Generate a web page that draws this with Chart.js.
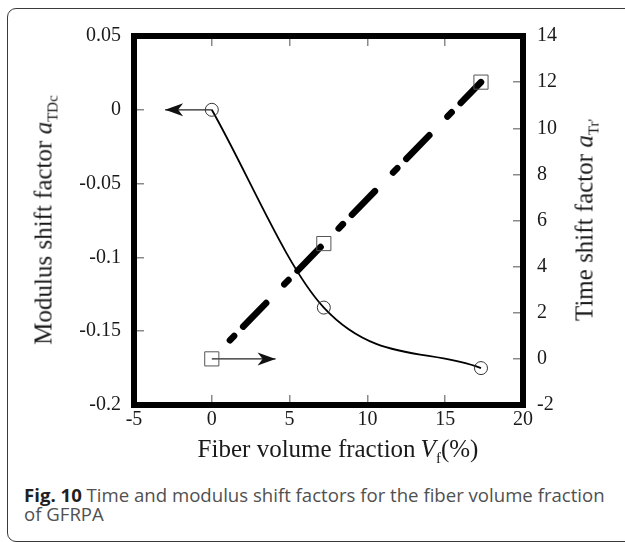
<!DOCTYPE html>
<html lang="en">

<head>
    <meta charset="UTF-8">
    <title>Fig. 10 shift factors</title>
    <script src="https://cdn.jsdelivr.net/npm/chart.js"></script>
    <style>
        body {
            margin: 0;
            width: 625px;
            height: 542px;
            overflow: hidden;
            background: #fff;
            position: relative;
        }

        .frame {
            position: absolute;
            left: 7px;
            top: 8px;
            width: 660px;
            height: 532px;
            border: 1.5px solid #3a3a3a;
            border-radius: 9px;
        }

        #chart {
            position: absolute;
            left: 0;
            top: 0;
        }

        .axis-title {
            position: absolute;
            font-family: 'Liberation Serif', serif;
            font-size: 25px;
            line-height: 25px;
            color: #1a1a1a;
            white-space: nowrap;
        }

        .axis-title sub {
            font-size: 15px;
            line-height: 0;
            vertical-align: -6px;
        }

        .rot {
            transform: translate(-50%, -50%) rotate(-90deg);
        }

        .caption {
            position: absolute;
            left: 24px;
            top: 486px;
            width: 590px;
            font-family: 'Open Sans', sans-serif;
            font-size: 18.6px;
            line-height: 18.5px;
            color: #505050;
        }

        .caption b {
            color: #231f20;
        }
    </style>
</head>

<body>
    <div class="frame"></div>
    <canvas id="chart" width="625" height="470"></canvas>

    <div class="axis-title rot" style="left:43px; top:220px;">Modulus shift factor <i>a</i><sub>TDc</sub></div>
    <div class="axis-title rot" style="left:584px; top:220px;">Time shift factor <i>a</i><sub>Tr'</sub></div>
    <div class="axis-title" style="left:338px; top:436px; transform: translateX(-50%);">Fiber volume fraction&thinsp;<i>V</i><sub>f</sub>(%)</div>

    <div class="caption"><b>Fig. 10</b> Time and modulus shift factors for the fiber volume fraction of GFRPA</div>

    <script>
        // data
        const volFrac = [0, 7.2, 17.3];          // fiber volume fraction Vf (%)
        const modShift = [0, -0.134, -0.175];    // modulus shift factor aTDc (left axis)
        const timeShift = [0, 5, 12];            // time shift factor aTr' (right axis)

        // straight fit through the time shift factors
        const fitX = [0, 17.3];
        const fitY = [0, 12];

        // the two arrows pointing at their axes
        const modArrowX = [0, -3];
        const modArrowY = [0, 0];
        const timeArrowX = [0, 4.1];
        const timeArrowY = [0, 0];

        const xTicks = [-5, 0, 5, 10, 15, 20];

        const pairs = (xs, ys) => xs.map((x, i) => ({ x: x, y: ys[i] }));

        const serif = { family: 'Liberation Serif', size: 20 };
        const tickGrid = { drawOnChartArea: false, tickLength: -10, color: '#8a8a8a', lineWidth: 1.5 };

        // plot box edges in px (the figure has a fixed frame)
        const box = { left: 134, right: 523, top: 34, bottom: 405 };

        const arrowHeads = {
            id: 'arrowHeads',
            afterDatasetsDraw(chart) {
                const ctx = chart.ctx;
                chart.data.datasets.forEach((ds, i) => {
                    if (!ds.arrow) return;
                    const pts = chart.getDatasetMeta(i).data;
                    const a = pts[pts.length - 2], b = pts[pts.length - 1];
                    const ang = Math.atan2(b.y - a.y, b.x - a.x);
                    ctx.save();
                    ctx.translate(b.x, b.y);
                    ctx.rotate(ang);
                    ctx.beginPath();
                    ctx.moveTo(0, 0);
                    ctx.lineTo(-18, -6.5);
                    ctx.lineTo(-13, 0);
                    ctx.lineTo(-18, 6.5);
                    ctx.closePath();
                    ctx.fillStyle = '#111';
                    ctx.fill();
                    ctx.restore();
                });
            }
        };

        const plotFrame = {
            id: 'plotFrame',
            afterDraw(chart) {
                const { ctx, chartArea: ca } = chart;
                ctx.save();
                ctx.lineWidth = 6;
                ctx.strokeStyle = '#000';
                ctx.lineJoin = 'miter';
                ctx.strokeRect(ca.left, ca.top, ca.right - ca.left, ca.bottom - ca.top);
                ctx.restore();
            }
        };

        new Chart(document.getElementById('chart'), {
            type: 'line',
            data: {
                datasets: [
                    {
                        data: pairs(volFrac, modShift),
                        yAxisID: 'y',
                        borderColor: '#000',
                        borderWidth: 1.8,
                        cubicInterpolationMode: 'monotone',
                        pointStyle: 'circle',
                        pointRadius: 6.5,
                        pointBorderColor: '#333',
                        pointBorderWidth: 1,
                        pointBackgroundColor: 'rgba(0,0,0,0)'
                    },
                    {
                        data: pairs(volFrac, timeShift),
                        yAxisID: 'y2',
                        showLine: false,
                        pointStyle: 'rect',
                        pointRadius: 10,
                        pointBorderColor: '#555',
                        pointBorderWidth: 1,
                        pointBackgroundColor: 'rgba(0,0,0,0)'
                    },
                    {
                        data: pairs(modArrowX, modArrowY),
                        yAxisID: 'y',
                        arrow: true,
                        borderColor: '#222',
                        borderWidth: 1.3,
                        pointRadius: 0
                    },
                    {
                        data: pairs(timeArrowX, timeArrowY),
                        yAxisID: 'y2',
                        arrow: true,
                        borderColor: '#222',
                        borderWidth: 1.3,
                        pointRadius: 0
                    },
                    {
                        data: pairs(fitX, fitY),
                        yAxisID: 'y2',
                        borderColor: '#000',
                        borderWidth: 6.5,
                        borderCapStyle: 'round',
                        borderDash: [6, 13, 33, 26],
                        borderDashOffset: 52,
                        pointRadius: 0
                    }
                ]
            },
            options: {
                responsive: false,
                animation: false,
                layout: { padding: 0 },
                plugins: { legend: { display: false }, tooltip: { enabled: false } },
                scales: {
                    x: {
                        type: 'linear',
                        position: 'bottom',
                        min: xTicks[0],
                        max: xTicks[xTicks.length - 1],
                        border: { display: false },
                        grid: tickGrid,
                        ticks: { stepSize: 5, font: serif, color: '#1a1a1a', padding: 13, maxRotation: 0 },
                        afterFit: s => { s.height = 470 - box.bottom; }
                    },
                    x2: {
                        type: 'linear',
                        position: 'top',
                        min: xTicks[0],
                        max: xTicks[xTicks.length - 1],
                        border: { display: false },
                        grid: tickGrid,
                        ticks: { stepSize: 5, display: false },
                        afterFit: s => { s.height = box.top; }
                    },
                    y: {
                        position: 'left',
                        min: -0.2,
                        max: 0.05,
                        border: { display: false },
                        grid: tickGrid,
                        ticks: {
                            stepSize: 0.05, font: serif, color: '#1a1a1a', padding: 23,
                            callback: v => String(Number(v.toFixed(2)))
                        },
                        afterFit: s => { s.width = box.left; }
                    },
                    y2: {
                        position: 'right',
                        min: -2,
                        max: 14,
                        border: { display: false },
                        grid: tickGrid,
                        ticks: { stepSize: 2, font: serif, color: '#1a1a1a', padding: 24 },
                        afterFit: s => { s.width = 625 - box.right; }
                    }
                }
            },
            plugins: [arrowHeads, plotFrame]
        });
    </script>
</body>

</html>
